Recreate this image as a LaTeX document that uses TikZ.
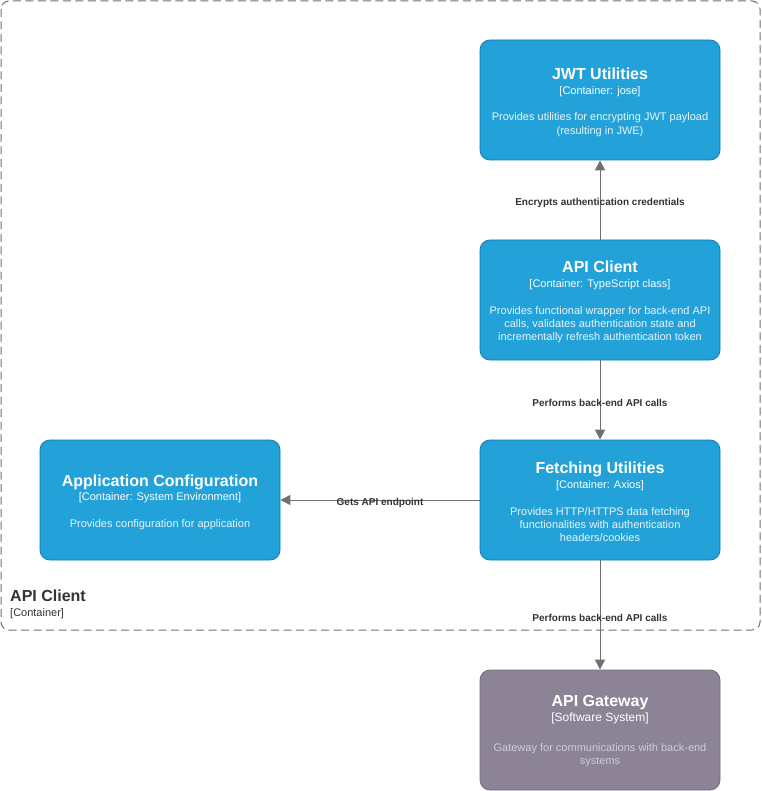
\documentclass[tikz,border=0pt]{standalone}
\usepackage{fontspec}
\setmainfont{Liberation Sans}
\usetikzlibrary{arrows.meta}
\definecolor{cblue}{HTML}{23A2D9}
\definecolor{cblueb}{HTML}{0E7DAD}
\definecolor{cdescb}{HTML}{E8F5FB}
\definecolor{cgw}{HTML}{8C8496}
\definecolor{cgwb}{HTML}{736A80}
\definecolor{cdescg}{HTML}{CFCAD3}
\definecolor{cedge}{HTML}{707070}
\definecolor{clabel}{HTML}{333333}
\newcommand\boxtitle[2][15.7pt]{{\color{white}\fontsize{16}{16}\selectfont\bfseries\rule{0pt}{#1}#2}}
\newcommand\boxsub[1]{{\color{white}#1}}
\begin{document}
\begin{tikzpicture}[x=1pt,y=-1pt,
  box/.style={draw, line width=0.8pt, rounded corners=10pt, minimum width=240pt,
    minimum height=120pt, inner sep=0pt, align=center,
    font=\fontsize{11}{13.3}\selectfont},
  container/.style={box, fill=cblue, draw=cblueb, text=cdescb},
  system/.style={box, fill=cgw, draw=cgwb, text=cdescg},
  rel/.style={draw=cedge, line width=1pt, -{Triangle[length=10pt,width=10pt]}},
  rellabel/.style={font=\fontsize{10}{12}\selectfont\bfseries, text=clabel,
    inner sep=0pt, yshift=-2.5pt}
]
\useasboundingbox (0,0) rectangle (761,791);
\draw[cedge, dash pattern=on 8pt off 4.5pt, rounded corners=8pt, line width=1pt]
  (1,1) rectangle (760,630);

\node[container] (jwt) at (600,100) {\boxtitle{JWT Utilities}\\[1.4pt]
  \boxsub{[Container: jose]}\\[13.4pt]
  Provides utilities for encrypting JWT payload\\
  (resulting in JWE)};
\node[container] (api) at (600,300) {\boxtitle{API Client}\\[1.4pt]
  \boxsub{[Container: TypeScript class]}\\[13.4pt]
  Provides functional wrapper for back-end API\\
  calls, validates authentication state and\\
  incrementally refresh authentication token};
\node[container] (fetch) at (600,500) {\boxtitle{Fetching Utilities}\\[1.4pt]
  \boxsub{[Container: Axios]}\\[13.4pt]
  Provides HTTP/HTTPS data fetching\\
  functionalities with authentication\\
  headers/cookies};
\node[container] (cfg) at (160,500) {\boxtitle{Application Configuration}\\[1.4pt]
  \boxsub{[Container: System Environment]}\\[13.4pt]
  Provides configuration for application};
\node[system] (gw) at (600,730) {\boxtitle[13pt]{API Gateway}\\[1.4pt]
  {\color{white}\fontsize{12}{13.3}\selectfont [Software System]}\\[17.3pt]
  Gateway for communications with back-end\\[-0.6pt]
  systems};

\node[anchor=base west, inner sep=0pt, text=clabel,
  font=\fontsize{16}{16}\selectfont\bfseries] (bname) at (10,601.7) {API Client};
\node[anchor=base west, inner sep=0pt, text=clabel,
  font=\fontsize{11}{13}\selectfont] (btype) at (10,616.5) {[Container]};

\draw[rel] (api) -- node[rellabel] (l1) {Encrypts authentication credentials} (jwt);
\draw[rel] (api) -- node[rellabel] (l2) {Performs back-end API calls} (fetch);
\draw[rel] (fetch) -- node[rellabel] (l3) {Gets API endpoint} (cfg);
\draw[rel] (fetch) -- node[rellabel] (l4) {Performs back-end API calls} (gw);
\end{tikzpicture}
\end{document}
